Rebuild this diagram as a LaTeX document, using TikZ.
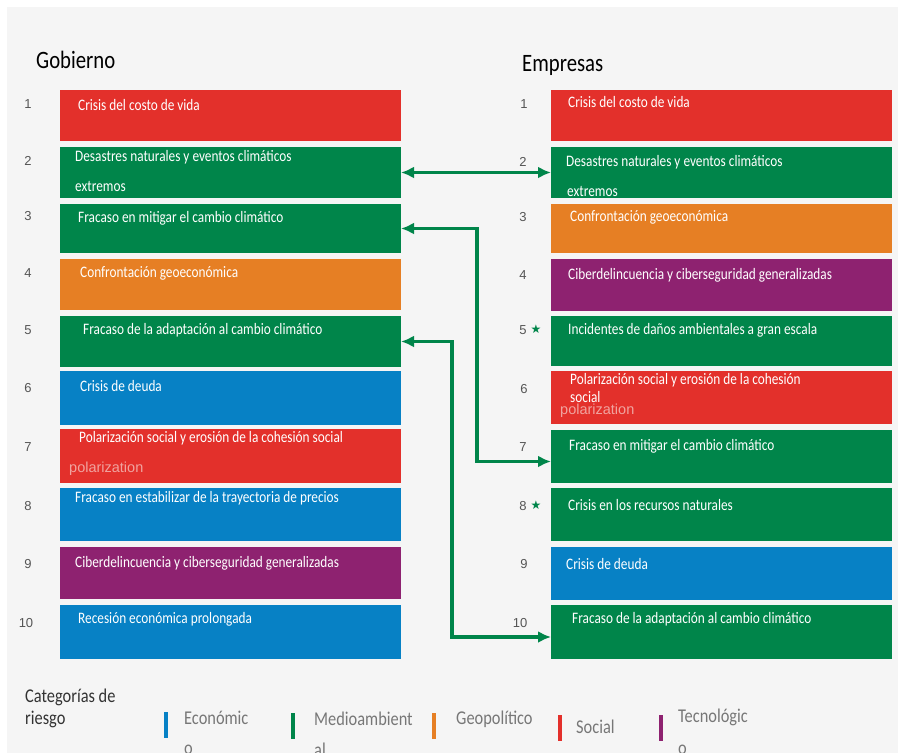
\documentclass[tikz,border=0pt]{standalone}
\usepackage{fontspec}
\usetikzlibrary{arrows.meta}
\setmainfont{Carlito}
\newfontfamily\condfont[FakeStretch=0.83]{Carlito}
\newfontfamily\legfont[FakeStretch=0.84]{Carlito}
\newfontfamily\numfont{Liberation Sans}
\newfontfamily\symfont{DejaVu Sans}

\definecolor{riskred}{HTML}{E3302B}
\definecolor{riskgreen}{HTML}{00854A}
\definecolor{riskorange}{HTML}{E67F24}
\definecolor{riskpurple}{HTML}{8E2270}
\definecolor{riskblue}{HTML}{0781C5}
\definecolor{panelbg}{HTML}{F5F5F5}
\definecolor{rankgray}{HTML}{555555}
\definecolor{legendgray}{HTML}{777777}
\definecolor{ghostpink}{HTML}{F0A39F}

\tikzset{
  box/.style={rectangle, anchor=north west, minimum width=341pt, inner sep=0pt, outer sep=0pt, draw=none},
  label/.style={anchor=west, inner sep=0pt, text=white, font=\condfont\fontsize{16}{18}\selectfont},
  ghost/.style={anchor=west, inner sep=0pt, text=ghostpink, font=\numfont\fontsize{14.5}{16}\selectfont},
  rank/.style={anchor=center, inner sep=0pt, text=rankgray, font=\numfont\fontsize{13}{15}\selectfont},
  header/.style={anchor=west, inner sep=0pt, text=black, font=\condfont\fontsize{25}{28}\selectfont},
  legtext/.style={anchor=west, inner sep=0pt, text=legendgray, font=\legfont\fontsize{19.5}{22}\selectfont},
  legbar/.style={rectangle, anchor=north west, minimum width=4pt, minimum height=26pt, inner sep=0pt},
  conn/.style={draw=riskgreen, line width=3.5pt, {Latex[length=13pt,width=12pt]}-{Latex[length=13pt,width=12pt]}},
  star/.style={anchor=center, inner sep=0pt, text=riskgreen, font=\symfont\fontsize{12}{14}\selectfont}
}

\begin{document}
\begin{tikzpicture}[x=1pt, y=-1pt]
  \useasboundingbox (0,0) rectangle (898,753);
  \fill[white] (0,0) rectangle (898,753);
  \fill[panelbg] (7,7) rectangle (898,753);

  % column headers
  \node[header] (hgov) at (36,60) {Gobierno};
  \node[header] (hbus) at (522,65) {Empresas};

  % ---------- government ranking ----------
  \node[box, fill=riskred,    minimum height=51pt] (l1)  at (60,90)  {};
  \node[box, fill=riskgreen,  minimum height=51pt] (l2)  at (60,147) {};
  \node[box, fill=riskgreen,  minimum height=49pt] (l3)  at (60,204) {};
  \node[box, fill=riskorange, minimum height=51pt] (l4)  at (60,259) {};
  \node[box, fill=riskgreen,  minimum height=51pt] (l5)  at (60,316) {};
  \node[box, fill=riskblue,   minimum height=54pt] (l6)  at (60,371) {};
  \node[box, fill=riskred,    minimum height=54pt] (l7)  at (60,429) {};
  \node[box, fill=riskblue,   minimum height=53pt] (l8)  at (60,488) {};
  \node[box, fill=riskpurple, minimum height=52pt] (l9)  at (60,547) {};
  \node[box, fill=riskblue,   minimum height=54pt] (l10) at (60,605) {};

  \node[label] (lt1)  at (78,105)  {Crisis del costo de vida};
  \node[label] (lt2a) at (75,157)  {Desastres naturales y eventos climáticos};
  \node[label] (lt2b) at (75,186)  {extremos};
  \node[label] (lt3)  at (78,218)  {Fracaso en mitigar el cambio climático};
  \node[label] (lt4)  at (80,273)  {Confrontación geoeconómica};
  \node[label] (lt5)  at (83,330)  {Fracaso de la adaptación al cambio climático};
  \node[label] (lt6)  at (80,386)  {Crisis de deuda};
  \node[label] (lt7)  at (79,438)  {Polarización social y erosión de la cohesión social};
  \node[ghost] (lg7)  at (69,469)  {polarization};
  \node[label] (lt8)  at (75,498)  {Fracaso en estabilizar de la trayectoria de precios};
  \node[label] (lt9)  at (75,563)  {Ciberdelincuencia y ciberseguridad generalizadas};
  \node[label] (lt10) at (78,619)  {Recesión económica prolongada};

  \node[rank] (ln1)  at (28,104) {1};
  \node[rank] (ln2)  at (28,161) {2};
  \node[rank] (ln3)  at (28,216) {3};
  \node[rank] (ln4)  at (28,273) {4};
  \node[rank] (ln5)  at (28,330) {5};
  \node[rank] (ln6)  at (28,388) {6};
  \node[rank] (ln7)  at (28,447) {7};
  \node[rank] (ln8)  at (28,506) {8};
  \node[rank] (ln9)  at (28,564) {9};
  \node[rank] (ln10) at (26,623) {10};

  % ---------- business ranking ----------
  \node[box, fill=riskred,    minimum height=51pt] (r1)  at (551,90)  {};
  \node[box, fill=riskgreen,  minimum height=51pt] (r2)  at (551,147) {};
  \node[box, fill=riskorange, minimum height=49pt] (r3)  at (551,204) {};
  \node[box, fill=riskpurple, minimum height=52pt] (r4)  at (551,259) {};
  \node[box, fill=riskgreen,  minimum height=50pt] (r5)  at (551,316) {};
  \node[box, fill=riskred,    minimum height=53pt] (r6)  at (551,371) {};
  \node[box, fill=riskgreen,  minimum height=53pt] (r7)  at (551,430) {};
  \node[box, fill=riskgreen,  minimum height=53pt] (r8)  at (551,488) {};
  \node[box, fill=riskblue,   minimum height=53pt] (r9)  at (551,547) {};
  \node[box, fill=riskgreen,  minimum height=54pt] (r10) at (551,605) {};

  \node[label] (rt1)  at (568,102) {Crisis del costo de vida};
  \node[label] (rt2a) at (566,162) {Desastres naturales y eventos climáticos};
  \node[label] (rt2b) at (567,191) {extremos};
  \node[label] (rt3)  at (570,217) {Confrontación geoeconómica};
  \node[label] (rt4)  at (568,275) {Ciberdelincuencia y ciberseguridad generalizadas};
  \node[label] (rt5)  at (568,330) {Incidentes de daños ambientales a gran escala};
  \node[label] (rt6a) at (570,380) {Polarización social y erosión de la cohesión};
  \node[label] (rt6b) at (570,397) {social};
  \node[ghost] (rg6)  at (560,411) {polarization};
  \node[label] (rt7)  at (569,446) {Fracaso en mitigar el cambio climático};
  \node[label] (rt8)  at (568,505) {Crisis en los recursos naturales};
  \node[label] (rt9)  at (566,564) {Crisis de deuda};
  \node[label] (rt10) at (572,619) {Fracaso de la adaptación al cambio climático};

  \node[rank] (rn1)  at (524,104) {1};
  \node[rank] (rn2)  at (523,162) {2};
  \node[rank] (rn3)  at (523,217) {3};
  \node[rank] (rn4)  at (523,275) {4};
  \node[rank] (rn5)  at (523,330) {5};
  \node[star] (rs5)  at (536,329) {★};
  \node[rank] (rn6)  at (524,389) {6};
  \node[rank] (rn7)  at (523,447) {7};
  \node[rank] (rn8)  at (523,506) {8};
  \node[star] (rs8)  at (536,505) {★};
  \node[rank] (rn9)  at (524,564) {9};
  \node[rank] (rn10) at (520,623) {10};

  % ---------- links between the two rankings ----------
  \draw[conn] (l2.east) -- (r2.west |- l2.east);
  \draw[conn] (l3.east) -- ++(76,0) |- ([yshift=-5pt]r7.west);
  \draw[conn] (l5.east) -- ++(51,0) |- ([yshift=-5pt]r10.west);

  % ---------- legend ----------
  \node[legtext, text=black!80] (lgt1) at (25,697) {Categorías de};
  \node[legtext, text=black!80] (lgt2) at (25,719) {riesgo};

  \node[legbar, fill=riskblue]   (b1) at (164,712) {};
  \node[legtext] (e1a) at (184,718) {Económic};
  \node[legtext] (e1b) at (184,750) {o};

  \node[legbar, fill=riskgreen]  (b2) at (291,713) {};
  \node[legtext] (e2a) at (314,719) {Medioambient};
  \node[legtext] (e2b) at (314,750) {al};

  \node[legbar, fill=riskorange] (b3) at (432,713) {};
  \node[legtext] (e3)  at (456,719) {Geopolítico};

  \node[legbar, fill=riskred]    (b4) at (558,715) {};
  \node[legtext] (e4)  at (576,727) {Social};

  \node[legbar, fill=riskpurple] (b5) at (659,715) {};
  \node[legtext] (e5a) at (678,717) {Tecnológic};
  \node[legtext] (e5b) at (678,750) {o};
\end{tikzpicture}
\end{document}
